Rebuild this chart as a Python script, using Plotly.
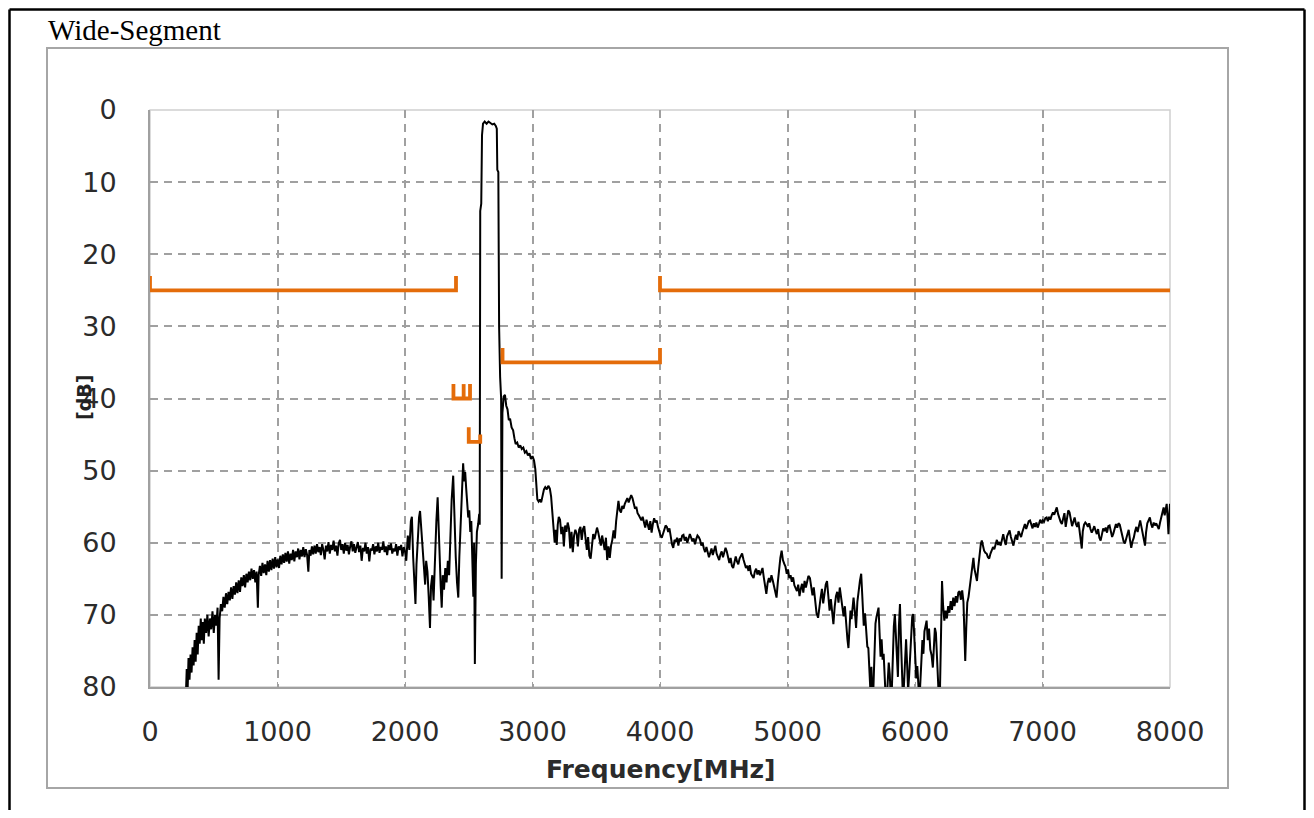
import plotly.graph_objects as go

# ---------------- data ----------------
x_ticks = [0, 1000, 2000, 3000, 4000, 5000, 6000, 7000, 8000]
y_ticks = [0, 10, 20, 30, 40, 50, 60, 70, 80]

# spectrum trace (frequency MHz, level dB)
trace_low = [
    (280, 82), (288, 77.5), (295, 80.5), (302, 76), (310, 79), (318, 75.5), (326, 78), (334, 74.5),
    (342, 77), (350, 73.5), (358, 76.5), (366, 72.5), (374, 75.5), (382, 71.5), (390, 74), (398, 70.5),
    (406, 73.5), (414, 71), (422, 74), (430, 70.5), (440, 72.5), (450, 70), (460, 73), (470, 70.5),
    (480, 72), (490, 69.5), (500, 72.5), (510, 70), (520, 71.5), (530, 69), (538, 79), (546, 70.5),
    (556, 68.5), (566, 69.5), (576, 67.5), (586, 69), (596, 67), (606, 68.5), (616, 66.8), (626, 68),
    (636, 66.2), (646, 67.8), (656, 66), (666, 67.2), (676, 65.5), (686, 67), (696, 65.2), (706, 66.8),
    (716, 64.8), (726, 66), (736, 64.5), (746, 66.2), (756, 64.3), (766, 65.5), (776, 64), (786, 65.2),
    (796, 63.6), (806, 65), (816, 63.8), (826, 65.5), (836, 64), (846, 69), (852, 64.5), (862, 63.2),
    (872, 64.6), (882, 62.8), (892, 64.2), (902, 63), (912, 64.5), (922, 62.5), (932, 64), (942, 62.4),
    (952, 63.8), (962, 62.2), (972, 63.6), (982, 62), (992, 63.4), (1002, 62.3), (1012, 63.5), (1022, 61.8),
    (1032, 63), (1042, 61.6), (1052, 62.8), (1062, 61.4), (1072, 62.6), (1082, 61.2), (1092, 62.9), (1102, 61.5),
    (1112, 62.4), (1122, 61), (1132, 62.6), (1142, 61.2), (1152, 62), (1162, 60.8), (1172, 62.3), (1182, 61),
    (1192, 61.9), (1202, 60.6), (1212, 62), (1222, 60.9), (1232, 61.7), (1242, 64), (1250, 61), (1260, 61.8),
    (1270, 60.5), (1280, 61.6), (1290, 60.4), (1300, 61.5), (1310, 60.2), (1320, 61.3), (1330, 60.6), (1340, 61.7),
    (1350, 60.2), (1360, 61), (1370, 62.3), (1380, 60.4), (1390, 61.2), (1400, 59.9), (1410, 61.5), (1420, 60.3),
    (1430, 61), (1440, 59.7), (1450, 61.2), (1460, 60.4), (1470, 61.8), (1480, 60.1), (1490, 59.6), (1500, 61),
    (1510, 60.2), (1520, 61.5), (1530, 60), (1540, 61.1), (1550, 60.3), (1560, 61.6), (1570, 60.5), (1580, 59.8),
    (1590, 61.2), (1600, 60.2), (1610, 61.4), (1620, 60.6), (1630, 59.9), (1640, 61.3), (1650, 60.4), (1660, 62.5),
    (1670, 60.7), (1680, 61.2), (1690, 60), (1700, 61.5), (1710, 60.6), (1720, 62.6), (1730, 60.8), (1740, 61.1),
    (1750, 60.2), (1760, 61.6), (1770, 60.5), (1780, 61.2), (1790, 60), (1800, 61.4), (1810, 60.6), (1820, 61),
    (1830, 59.8), (1840, 61.3), (1850, 60.5), (1860, 61.7), (1870, 60.3), (1880, 61), (1890, 60.1), (1900, 61.5),
    (1910, 60.8), (1920, 61.2), (1930, 60.2), (1940, 61.8), (1950, 60.5), (1960, 61), (1970, 60.3), (1980, 61.9),
    (1990, 60.6), (2000, 61.2),
]

trace_interference = [
    (2010, 62.5), (2022, 59), (2034, 61), (2046, 57), (2054, 56.4), (2064, 62), (2074, 65), (2082, 68.5),
    (2090, 63), (2100, 59), (2110, 56.5), (2118, 55.6), (2128, 58), (2140, 61.5), (2150, 64), (2158, 65.8),
    (2166, 62.5), (2176, 64), (2186, 67.5), (2196, 71.8), (2204, 66), (2214, 64.5), (2224, 68), (2234, 62),
    (2246, 57), (2256, 53.7), (2264, 59), (2272, 64), (2280, 66), (2288, 69), (2296, 64.5), (2306, 66.5),
    (2316, 63.5), (2326, 65.5), (2336, 62.5), (2346, 64.5), (2356, 59), (2366, 54), (2378, 50.7), (2388, 57),
    (2398, 62), (2408, 65.5), (2418, 67.6), (2426, 62), (2436, 57), (2446, 52.5), (2456, 49), (2464, 51.5),
    (2472, 50.2), (2480, 52.5), (2488, 55), (2496, 56.5), (2504, 55.5), (2512, 58.5), (2520, 57), (2528, 61),
    (2536, 67.5), (2542, 60), (2548, 76.8), (2556, 63), (2564, 58.5), (2574, 57.4), (2582, 56),
]

trace_carrier = [
    (2586, 57.5), (2590, 14), (2598, 13), (2604, 3.5), (2612, 1.9), (2625, 1.6), (2640, 1.9), (2655, 1.6),
    (2670, 1.8), (2685, 2.0), (2700, 1.9), (2712, 2.2), (2720, 2.6), (2724, 8.3), (2732, 8.6), (2738, 30),
    (2746, 37), (2754, 40), (2758, 65), (2764, 42), (2774, 39.7), (2784, 39.5), (2794, 41), (2804, 41.5),
    (2814, 43), (2824, 42.8), (2836, 44), (2848, 44.4), (2858, 45.5), (2868, 46.3), (2880, 46.1), (2892, 46.8),
    (2904, 46.5), (2916, 47), (2928, 46.8), (2940, 47.5), (2952, 47.3), (2964, 47.9), (2976, 47.6), (2988, 48.4),
    (3000, 48), (3012, 48.6), (3022, 49.8), (3030, 51.5), (3038, 54), (3048, 54.3), (3058, 54), (3068, 54.4),
    (3078, 53.5), (3090, 52.6), (3100, 52.3), (3112, 52.6), (3124, 52.1), (3136, 52.5), (3146, 53.6), (3156, 56),
    (3166, 59), (3174, 60), (3182, 58.2), (3190, 60.3), (3198, 57.5), (3206, 56.4), (3216, 56.8), (3226, 58.8),
    (3236, 57.8), (3246, 60.5), (3256, 57.6), (3266, 58.5), (3276, 57.2), (3286, 58), (3296, 60.8), (3306, 58.5),
    (3316, 61.3), (3326, 59), (3336, 58.2), (3346, 58.7), (3356, 60.5), (3366, 58.2), (3376, 57.8), (3386, 59.6),
    (3396, 58.1), (3406, 57.7), (3416, 59.4), (3426, 61), (3436, 59.2), (3446, 61.8), (3456, 62.2), (3466, 60),
    (3476, 58.8), (3486, 59.5), (3496, 58.4), (3506, 57.9), (3516, 58.6), (3526, 59.6), (3536, 60.4), (3546, 59),
    (3556, 59.8), (3566, 61), (3576, 59.3), (3586, 62.4), (3596, 60.5), (3606, 62.1), (3616, 60.4), (3626, 59.6),
    (3636, 58.3), (3646, 59.4), (3656, 57), (3666, 55), (3674, 54.2), (3684, 55.5), (3694, 55.8), (3704, 54.9),
    (3714, 55.3), (3724, 54.6), (3734, 54.2), (3744, 53.8), (3754, 54.4), (3764, 53.9), (3774, 53.4), (3784, 53.8),
    (3794, 54.6), (3804, 55.3), (3814, 55), (3824, 55.9), (3834, 56.2), (3844, 56.5), (3854, 56.9), (3864, 56.4),
    (3874, 57.3), (3884, 57.9), (3894, 56.8), (3904, 57.4), (3914, 58.2), (3924, 57), (3934, 58.6), (3944, 57.4),
    (3954, 56.6), (3964, 57.2), (3974, 56.9), (3984, 57.8), (3994, 58.6),
]

trace_mid = [
    (4004, 59), (4014, 59.3), (4024, 58.6), (4034, 58.2), (4044, 57.6), (4054, 57.8), (4064, 58.5), (4074, 58),
    (4084, 59.4), (4094, 60.2), (4104, 60.7), (4114, 59.6), (4124, 59.9), (4134, 59.3), (4144, 60.4), (4154, 59.4),
    (4164, 59.8), (4174, 59), (4184, 58.9), (4194, 59.7), (4204, 59.2), (4214, 60), (4224, 59.4), (4234, 58.8),
    (4244, 59.3), (4254, 59.8), (4264, 59.4), (4274, 60.2), (4284, 59.5), (4294, 59), (4304, 59.2), (4314, 59.6),
    (4324, 60.4), (4334, 60), (4344, 60.8), (4354, 61.3), (4364, 60.6), (4374, 61.6), (4384, 62), (4394, 61.4),
    (4404, 60.8), (4414, 61.7), (4424, 61.2), (4434, 60.4), (4444, 61.5), (4454, 61.9), (4464, 62.4), (4474, 61.6),
    (4484, 61.2), (4494, 62), (4504, 61.3), (4514, 60.7), (4524, 61.2), (4534, 62.2), (4544, 62.8), (4554, 62.1),
    (4564, 63.2), (4574, 63.5), (4584, 62.4), (4594, 61.9), (4604, 62.6), (4614, 63), (4624, 62.2), (4634, 61.7),
    (4644, 61.5), (4654, 62.3), (4664, 62.9), (4674, 63.5), (4684, 63.2), (4694, 63.9), (4704, 63.1), (4714, 64.3),
    (4724, 64.6), (4734, 64.9), (4744, 64), (4754, 63.6), (4764, 64.4), (4774, 63.8), (4784, 64.5), (4794, 63.9),
    (4804, 63.5), (4814, 64.8), (4824, 65.9), (4834, 67.1), (4844, 65.6), (4854, 64.9), (4864, 65.5), (4874, 64.5),
    (4884, 65.2), (4894, 66.1), (4904, 66.8), (4914, 67.6), (4924, 65.5), (4934, 63.2), (4944, 62.1), (4954, 61.1),
    (4964, 62.4), (4974, 62.9), (4984, 63.3), (4994, 64.3), (5004, 63.7), (5014, 64.9), (5024, 64.5), (5034, 65.4),
    (5044, 64.8), (5054, 65.9), (5064, 66.3), (5074, 66.7), (5084, 65.8), (5094, 67.4), (5104, 66.4), (5114, 65.7),
    (5124, 66.9), (5134, 65.3), (5144, 66.2), (5154, 65.4), (5164, 64.6), (5176, 64.9), (5186, 66.5), (5196, 67.3),
    (5206, 66.2), (5216, 68.1), (5228, 69.8), (5240, 70.4), (5250, 68.6), (5260, 67.6), (5270, 66.4), (5280, 68.4),
    (5290, 67.1), (5300, 65.8), (5310, 65.3), (5320, 67.5), (5330, 69.4), (5340, 67.8), (5350, 69.6), (5360, 71.3),
    (5370, 68.9), (5380, 67.4), (5390, 66.8), (5400, 68.3), (5410, 66.2), (5420, 67.7), (5430, 69.5), (5440, 70.2),
    (5450, 68.8), (5460, 71.7), (5470, 73.4), (5478, 74.6), (5486, 71.2), (5494, 69.4), (5502, 70.6), (5510, 68.4),
    (5518, 67.6), (5528, 69.5), (5538, 71.8), (5548, 68.2), (5558, 66.4), (5568, 65.3), (5578, 64.3), (5588, 68.5),
    (5598, 71.5), (5608, 69.8), (5618, 72.6), (5626, 74.4), (5634, 74.6), (5642, 77.5), (5650, 80.5), (5658, 77.2),
    (5666, 82), (5674, 80), (5682, 74.8), (5690, 71.2), (5698, 70.3), (5706, 69.6), (5714, 69), (5722, 72.5),
    (5730, 75.8), (5738, 73.4), (5746, 76.2), (5754, 75.4), (5762, 78.8), (5770, 81.5), (5778, 82), (5786, 79.4),
    (5794, 76.6), (5802, 78.2), (5810, 81.6), (5818, 80.5), (5826, 75.2), (5834, 71.6), (5842, 69.9), (5850, 72.8),
    (5858, 76.3), (5866, 78.6), (5874, 71.5), (5882, 68.5), (5890, 73.6), (5898, 78.2), (5906, 82), (5914, 79.5),
    (5922, 75.8), (5930, 73.4), (5938, 76.8), (5946, 80.6), (5954, 78.4), (5962, 75.5), (5970, 72.6), (5978, 70.3),
    (5986, 69.9), (5994, 73.2), (6002, 76.5), (6010, 78.8), (6018, 77.1), (6026, 80.5), (6034, 82), (6042, 79.3),
    (6050, 76.2), (6058, 73.5), (6066, 75.4), (6074, 72.3), (6082, 71.6), (6091, 70.8), (6100, 73.5), (6110, 71.9),
    (6120, 74.8), (6130, 75.6), (6140, 77.3), (6148, 74.2), (6156, 71.8), (6164, 72.5), (6172, 76.2), (6180, 79.5),
    (6188, 82), (6196, 80.3), (6204, 72.4), (6212, 65.3), (6220, 68.6), (6230, 70.8), (6240, 69.4), (6250, 70.5),
    (6260, 68.8), (6270, 69.7), (6280, 68.1), (6290, 69.3), (6300, 67.6), (6310, 68.8), (6320, 67.4), (6330, 68.3),
    (6340, 66.9), (6350, 66.7), (6360, 67.9), (6370, 66.6), (6380, 68.2), (6388, 74.5), (6394, 76.4), (6402, 71.8),
    (6410, 68.3), (6420, 67.5), (6430, 66.1), (6440, 64.2), (6450, 62.8), (6458, 62.1), (6466, 63.6), (6476, 64.8),
    (6486, 65.3), (6496, 63.4), (6506, 61.5), (6516, 60.2), (6524, 59.7),
]

trace_high = [
    (6532, 60.5), (6542, 61.1), (6552, 61.4), (6562, 61.5), (6572, 62), (6582, 62.2), (6592, 61.5), (6602, 61),
    (6612, 60.6), (6622, 60.9), (6632, 60.1), (6642, 59.6), (6652, 60.3), (6662, 59.9), (6672, 60.4), (6682, 59.3),
    (6692, 58.8), (6702, 59.7), (6712, 60.3), (6722, 59.1), (6732, 58.6), (6742, 58.3), (6752, 59.2), (6762, 59.8),
    (6772, 60.4), (6782, 59.5), (6792, 58.9), (6802, 59.6), (6812, 58.4), (6822, 58.8), (6832, 59.2), (6842, 58.5),
    (6852, 57.8), (6862, 57.4), (6872, 58.1), (6882, 57.6), (6892, 57), (6902, 56.9), (6912, 57.5), (6922, 58),
    (6932, 57.3), (6942, 57.8), (6952, 57.2), (6962, 57.9), (6972, 57.4), (6982, 56.8), (6992, 57.3), (7002, 56.9),
    (7012, 57.1), (7022, 56.6), (7032, 56.5), (7042, 57), (7052, 56.4), (7062, 56.8), (7072, 56.2), (7082, 55.8),
    (7092, 56.1), (7102, 55.4), (7112, 55.1), (7122, 56), (7132, 56.6), (7142, 57.1), (7152, 57.4), (7162, 56.4),
    (7172, 55.9), (7182, 57.8), (7192, 56.2), (7202, 55.5), (7212, 55.8), (7222, 56.6), (7232, 57.7), (7242, 57.1),
    (7252, 56.5), (7262, 57.4), (7272, 57.8), (7282, 57.1), (7292, 58.6), (7300, 60.2), (7308, 60.8), (7316, 58.4),
    (7326, 57.5), (7336, 57.2), (7346, 57.4), (7356, 57.8), (7366, 57.3), (7376, 58.1), (7386, 58.6), (7396, 58.2),
    (7406, 57.7), (7416, 58.3), (7426, 58.8), (7436, 58.1), (7446, 59.3), (7456, 59.7), (7466, 58.5), (7476, 58),
    (7486, 58.4), (7496, 57.9), (7506, 58.6), (7516, 57.7), (7526, 57.6), (7536, 58.3), (7546, 59.2), (7556, 58.7),
    (7566, 58.2), (7576, 57.4), (7586, 57.9), (7596, 57.3), (7606, 57.5), (7616, 58.3), (7626, 59.1), (7636, 59.8),
    (7646, 60.1), (7656, 59.4), (7666, 58.6), (7676, 58.2), (7686, 59.6), (7696, 60.7), (7706, 59.8), (7716, 59.3),
    (7726, 58.4), (7736, 57.8), (7746, 58.5), (7756, 57.6), (7766, 56.9), (7776, 57.8), (7786, 58.9), (7796, 59.8),
    (7804, 60.4), (7812, 58.6), (7822, 57.3), (7832, 56.9), (7842, 56.5), (7852, 57.4), (7862, 57.9), (7872, 57.2),
    (7882, 57.6), (7892, 57.3), (7902, 57.8), (7912, 58.1), (7922, 57.2), (7932, 56.3), (7942, 55.5), (7950, 55.1),
    (7958, 56.2), (7966, 55.4), (7974, 54.6), (7982, 56.8), (7988, 58.8), (7994, 56.2), (8000, 54.6),
]

# emission mask (frequency MHz, limit dB); None separates segments
mask_freq = [0, 0, 2400, 2400, None,
             2380, 2380, 2510, 2510, None, 2460, 2460, None,
             2500, 2500, 2590, 2590, None,
             2765, 2765, 4000, 4000, None,
             4000, 4000, 8040]
mask_level = [23, 25, 25, 23, None,
              38, 40, 40, 38, None, 38, 40, None,
              44, 46, 46, 45, None,
              33, 35, 35, 33, None,
              23, 25, 25]

# ---------------- figure ----------------
all_points = trace_low + trace_interference + trace_carrier + trace_mid + trace_high
trace_freq = [p[0] for p in all_points]
trace_level = [p[1] for p in all_points]

# page has an 8px body margin; keep the figure inside the viewport (no scrollbars)
OFF = 8
W, H = 1314 - 2 * OFF, 818 - 2 * OFF
PLOT_L, PLOT_R, PLOT_T, PLOT_B = 150, 1170, 110, 687   # page pixels
L, T = PLOT_L - OFF, PLOT_T - OFF
PW, PH = PLOT_R - PLOT_L, PLOT_B - PLOT_T
R, B = W - L - PW, H - T - PH


def px(x):
    return (x - PLOT_L) / PW


def py(y):
    return (PLOT_B - y) / PH


fig = go.Figure()
fig.add_trace(go.Scatter(x=trace_freq, y=trace_level, mode="lines",
                         line=dict(color="black", width=2), showlegend=False))
fig.add_trace(go.Scatter(x=mask_freq, y=mask_level, mode="lines",
                         line=dict(color="#E46C0A", width=3.8), showlegend=False,
                         connectgaps=False, cliponaxis=False))

tick_font = dict(family="DejaVu Sans", size=27, color="#2b2b2b")
grid = dict(showgrid=True, gridcolor="#A0A0A0", gridwidth=1.8, griddash="8px,6px",
            zeroline=False, showline=True, linecolor="#A0A0A0", linewidth=2,
            ticks="inside", ticklen=5, tickcolor="#A0A0A0", tickfont=tick_font)

fig.update_xaxes(range=[0, 8000], tickvals=x_ticks, ticktext=[str(v) for v in x_ticks],
                 ticklabelstandoff=20, **grid)
fig.update_yaxes(range=[80, 0], tickvals=y_ticks, ticktext=[str(v) for v in y_ticks],
                 ticklabelstandoff=26, **grid)

frame_left, frame_right, frame_top = OFF + 1.5, OFF + W - 1.5, OFF + 1.5
shapes = [
    # light plot-area border
    dict(type="rect", xref="paper", yref="paper", x0=0, x1=1, y0=0, y1=1,
         line=dict(color="#D0D0D0", width=1.5), layer="below"),
    # chart-area grey frame
    dict(type="rect", xref="paper", yref="paper", x0=px(47), x1=px(1228), y0=py(788), y1=py(48),
         line=dict(color="#A6A6A6", width=2)),
    # outer black frame (left, top, right)
    dict(type="line", xref="paper", yref="paper", x0=px(frame_left), x1=px(frame_left),
         y0=py(OFF + H), y1=py(frame_top), line=dict(color="black", width=2.5)),
    dict(type="line", xref="paper", yref="paper", x0=px(frame_left), x1=px(frame_right),
         y0=py(frame_top), y1=py(frame_top), line=dict(color="black", width=2.5)),
    dict(type="line", xref="paper", yref="paper", x0=px(frame_right), x1=px(frame_right),
         y0=py(OFF + H), y1=py(frame_top), line=dict(color="black", width=2.5)),
]

annotations = [
    dict(text="Wide-Segment", xref="paper", yref="paper", x=px(46), y=py(30),
         xanchor="left", yanchor="middle", showarrow=False,
         font=dict(family="Liberation Serif", size=29, color="black")),
    dict(text="<b>Frequency[MHz]</b>", xref="paper", yref="paper", x=px(661), y=py(769),
         xanchor="center", yanchor="middle", showarrow=False,
         font=dict(family="DejaVu Sans", size=25, color="#2b2b2b")),
    dict(text="<b>[dB]</b>", xref="paper", yref="paper", x=px(84), y=py(398),
         xanchor="center", yanchor="middle", showarrow=False, textangle=-90,
         font=dict(family="DejaVu Sans", size=19, color="#222222")),
]

fig.update_layout(width=W, height=H, margin=dict(l=L, r=R, t=T, b=B),
                  paper_bgcolor="white", plot_bgcolor="white",
                  shapes=shapes, annotations=annotations, showlegend=False)

fig.write_html("out.html")
